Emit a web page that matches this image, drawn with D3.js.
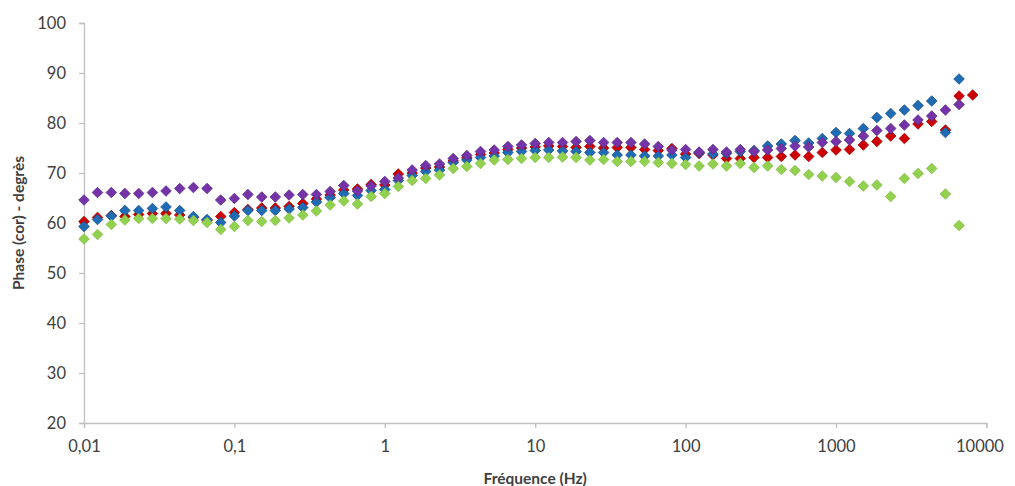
<!DOCTYPE html>
<html>
<head>
<meta charset="utf-8">
<script src="https://cdn.jsdelivr.net/npm/d3@7/dist/d3.min.js"></script>
<style>
  html, body { margin: 0; padding: 0; background: #ffffff; }
  svg { display: block; }
  text { font-family: Lato, "Open Sans", sans-serif; }
</style>
</head>
<body>
<svg id="chart" width="1015" height="486"></svg>
<script>
// Frequencies (Hz), log-spaced
const freqs = [
  0.01, 0.0123, 0.0152, 0.0187, 0.0231, 0.0285, 0.0351, 0.0433, 0.0534, 0.0658, 0.0811,
  0.1, 0.123, 0.152, 0.187, 0.231, 0.285, 0.351, 0.433, 0.534, 0.658, 0.811,
  1, 1.23, 1.52, 1.87, 2.31, 2.85, 3.51, 4.33, 5.34, 6.58, 8.11,
  10, 12.3, 15.2, 18.7, 23.1, 28.5, 35.1, 43.3, 53.4, 65.8, 81.1,
  100, 123, 152, 187, 231, 285, 351, 433, 534, 658, 811,
  1000, 1230, 1520, 1870, 2310, 2850, 3510, 4330, 5340, 6580, 8110
];

const redVals = [
  60.3, 61.1, 61.5, 61.3, 61.7, 61.9, 61.9, 61.6, 61.1, 60.5, 61.3,
  62.1, 62.7, 63.0, 63.0, 63.3, 63.9, 64.8, 65.6, 66.6, 66.8, 67.7,
  67.6, 69.8, 70.0, 71.0, 71.2, 72.4, 73.0, 73.7, 74.0, 74.7, 75.0,
  75.2, 75.4, 75.3, 75.1, 75.3, 75.0, 75.1, 75.1, 74.7, 74.5, 74.9,
  73.8, 73.9, 73.6, 72.9, 72.9, 73.1, 73.1, 73.3, 73.6, 73.3, 74.1,
  74.6, 74.7, 75.6, 76.3, 77.4, 76.9, 79.8, 80.3, 78.6, 85.4, 85.6
];

const blueVals = [
  59.3, 60.7, 61.4, 62.5, 62.5, 62.9, 63.2, 62.5, 61.3, 60.7, 60.1,
  61.4, 62.5, 62.5, 62.5, 62.8, 63.1, 64.2, 65.1, 65.9, 65.5, 66.5,
  66.7, 68.5, 69.5, 70.3, 70.6, 72.1, 72.6, 73.1, 73.4, 74.1, 74.3,
  74.5, 74.6, 74.4, 74.3, 74.1, 74.1, 73.6, 73.6, 73.4, 73.4, 73.6,
  73.1, 74.1, 73.8, 73.9, 74.3, 74.5, 75.4, 75.8, 76.5, 76.0, 76.9,
  78.1, 77.9, 78.9, 81.1, 81.9, 82.6, 83.5, 84.4, 78.1, 88.8
];

const purpleVals = [
  64.6, 66.1, 66.1, 65.9, 65.9, 66.1, 66.4, 66.9, 67.1, 66.9, 64.6,
  64.9, 65.7, 65.2, 65.2, 65.6, 65.7, 65.7, 66.3, 67.5, 66.4, 67.4,
  68.3, 69.0, 70.6, 71.5, 71.8, 72.9, 73.5, 74.3, 74.6, 75.3, 75.6,
  75.9, 76.1, 76.1, 76.3, 76.5, 76.1, 76.1, 76.1, 75.8, 75.3, 74.6,
  74.7, 74.2, 74.7, 74.2, 74.7, 74.3, 74.6, 74.9, 75.4, 75.2, 76.1,
  76.3, 76.6, 77.4, 78.5, 78.9, 79.6, 80.6, 81.4, 82.6, 83.7
];

const greenVals = [
  56.8, 57.7, 59.7, 60.6, 60.9, 60.9, 60.9, 60.8, 60.5, 60.1, 58.7,
  59.3, 60.5, 60.3, 60.5, 61.0, 61.6, 62.4, 63.6, 64.4, 63.8, 65.3,
  65.9, 67.3, 68.5, 68.9, 69.6, 70.9, 71.3, 71.9, 72.6, 72.7, 72.9,
  73.1, 73.1, 73.2, 73.1, 72.6, 72.7, 72.3, 72.3, 72.3, 72.1, 71.9,
  71.7, 71.4, 71.8, 71.4, 71.9, 71.1, 71.4, 70.7, 70.5, 69.7, 69.4,
  69.1, 68.3, 67.4, 67.6, 65.3, 68.9, 69.9, 70.9, 65.8, 59.5
];

const yTicks = [20, 30, 40, 50, 60, 70, 80, 90, 100];
const xTicks = [0.01, 0.1, 1, 10, 100, 1000, 10000];
const xTickLabels = ["0,01", "0,1", "1", "10", "100", "1000", "10000"];

const yTitle = "Phase (cor) - degrès";
const xTitle = "Fréquence (Hz)";

// draw order (last on top)
const series = [
  { name: "rouge", values: redVals, fill: "#cc0000", stroke: "#a80000" },
  { name: "bleu", values: blueVals, fill: "#1f6cb4", stroke: "#17508a" },
  { name: "violet", values: purpleVals, fill: "#7434a8", stroke: "#5f2a8c" },
  { name: "vert", values: greenVals, fill: "#92d050", stroke: "#80bf43" }
];

const svg = d3.select("#chart");
const axisColor = "#bfbfbf";
const textColor = "#404040";

const x = d3.scaleLog().domain([0.01, 10000]).range([84, 986.4]);
const y = d3.scaleLinear().domain([20, 100]).range([423, 23]);

// Y axis
const yAxis = d3.axisLeft(y).tickValues(yTicks).tickSize(5).tickPadding(13).tickFormat(d3.format("d"));
const gy = svg.append("g").attr("transform", `translate(${x.range()[0]},0)`).call(yAxis);
gy.select(".domain").attr("stroke", axisColor).attr("stroke-width", 1.3);
gy.selectAll(".tick line").attr("stroke", axisColor).attr("stroke-width", 1.3);
gy.selectAll(".tick text").attr("fill", textColor).style("font-size", "16.5px").style("font-family", "Lato, sans-serif");

// X axis
const xAxis = d3.axisBottom(x).tickValues(xTicks).tickSize(5).tickPadding(12)
  .tickFormat((d, i) => xTickLabels[i]);
const gx = svg.append("g").attr("transform", `translate(0,${y.range()[0]})`).call(xAxis);
gx.select(".domain").attr("stroke", axisColor).attr("stroke-width", 1.3);
gx.selectAll(".tick line").attr("stroke", axisColor).attr("stroke-width", 1.3);
gx.selectAll(".tick text").attr("fill", textColor).style("font-size", "16.5px").style("font-family", "Lato, sans-serif")
  .attr("text-anchor", (d, i) => i === xTicks.length - 1 ? "end" : "middle")
  .attr("dx", (d, i) => i === xTicks.length - 1 ? 17 : 0);

// Axis titles
svg.append("text")
  .attr("transform", `translate(24,${(y.range()[0] + y.range()[1]) / 2}) rotate(-90)`)
  .attr("text-anchor", "middle")
  .attr("fill", textColor)
  .style("font-weight", "bold")
  .style("font-size", "15.5px")
  .text(yTitle);

svg.append("text")
  .attr("x", (x.range()[0] + x.range()[1]) / 2 - 0)
  .attr("y", 484)
  .attr("text-anchor", "middle")
  .attr("fill", textColor)
  .style("font-weight", "bold")
  .style("font-size", "15.5px")
  .text(xTitle);

// Diamond markers
const r = 5.3;
const diamond = `M0,${-r}L${r},0L0,${r}L${-r},0Z`;

series.forEach(s => {
  svg.append("g").attr("class", "series-" + s.name)
    .selectAll("path")
    .data(s.values.map((v, i) => ({ f: freqs[i], v })))
    .join("path")
    .attr("d", diamond)
    .attr("transform", d => `translate(${x(d.f)},${y(d.v)})`)
    .attr("fill", s.fill)
    .attr("stroke", s.stroke)
    .attr("stroke-width", 0.8);
});
</script>
</body>
</html>
